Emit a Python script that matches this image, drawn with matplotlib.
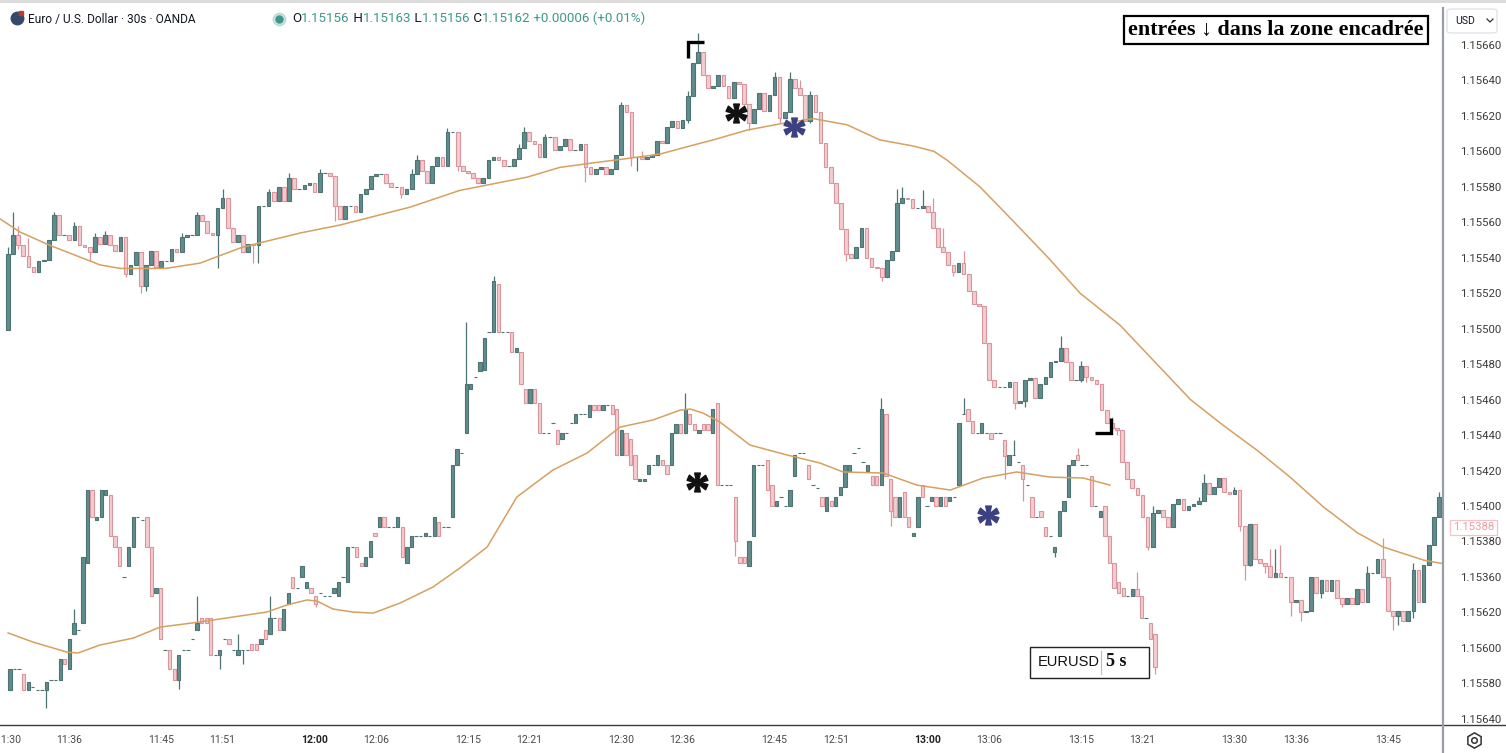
import numpy as np
import matplotlib.pyplot as plt
from matplotlib.lines import Line2D
from matplotlib.patches import Rectangle, FancyBboxPatch
from matplotlib.path import Path
from matplotlib.textpath import TextPath
from matplotlib.font_manager import FontProperties
from matplotlib.transforms import blended_transform_factory

plt.rcParams['font.family'] = ['Roboto', 'DejaVu Sans']

# all prices are written in 1e-5 above BASE (542 -> 1.15542)
BASE = 1.15

# 30 s candles, first one at 11:30, open = previous close
up_first_open = 499
up_close = [
    542, 553, 547, 541, 535, 532, 538, 539, 550, 564, 553, 553, 550, 558, 547, 546, 543, 552, 548, 553,
    547, 544, 552, 531, 536, 543, 524, 536, 544, 535, 538, 538, 545, 543, 552, 553, 553, 564, 561, 554,
    553, 568, 574, 557, 549, 553, 543, 548, 547, 569, 569, 577, 572, 580, 572, 585, 579, 579, 581, 582,
    577, 588, 588, 586, 569, 562, 569, 569, 566, 576, 579, 586, 587, 587, 582, 580, 580, 576, 579, 587,
    595, 589, 582, 592, 597, 592, 611, 611, 592, 589, 588, 585, 582, 585, 595, 597, 595, 592, 592, 596,
    602, 611, 606, 604, 597, 608, 608, 601, 603, 607, 601, 601, 604, 591, 587, 590, 591, 587, 590, 598,
    626, 622, 597, 597, 596, 597, 598, 606, 605, 614, 617, 613, 618, 631, 650, 656, 643, 636, 637, 643,
    637, 630, 639, 638, 627, 616, 624, 633, 623, 632, 642, 619, 622, 641, 636, 632, 617, 632, 622, 605,
    591, 582, 571, 556, 542, 540, 546, 557, 540, 535, 534, 529, 539, 544, 571, 574, 573, 568, 568, 569,
    566, 557, 546, 543, 536, 532, 537, 531, 521, 514, 513, 492, 471, 467, 467, 467, 470, 458, 459, 471,
    472, 461, 469, 473, 481, 482, 489, 481, 471, 471, 479, 473, 471, 469, 454, 447, 444, 443, 425, 415,
    410, 406, 394, 377, 396, 398, 394, 388, 401, 404, 398, 400, 401, 403, 413, 407, 411, 416, 408, 407,
    409, 389, 367, 390, 370, 368, 366, 360, 362, 360, 360, 346, 347, 340, 341, 360, 351, 358, 352, 358,
    348, 345, 348, 345, 353, 346, 362, 362, 370, 360, 341, 338, 341, 335, 341, 364, 346, 367, 378, 394,
    405,
]
up_high = {0: 546, 1: 566, 2: 558, 4: 551, 9: 566, 13: 560, 17: 554, 19: 555, 34: 554, 37: 566,
           42: 579, 51: 579, 55: 588, 61: 590, 79: 590, 80: 598, 86: 613, 100: 604, 101: 614,
           105: 610, 120: 628, 124: 600, 133: 634, 135: 667, 150: 645, 153: 645, 155: 640,
           157: 634, 174: 579, 175: 580, 179: 578, 181: 574, 183: 557, 187: 544, 206: 496,
           210: 482, 214: 456, 216: 450, 220: 413, 224: 400, 233: 405, 234: 418, 240: 411,
           247: 376, 248: 376, 249: 378, 266: 366, 269: 382, 275: 368, 280: 408}
up_low = {2: 545, 16: 538, 23: 529, 26: 520, 27: 521, 41: 534, 48: 537, 49: 537, 64: 561,
          77: 574, 88: 589, 113: 583, 122: 592, 123: 589, 133: 616, 145: 612, 151: 616,
          157: 616, 164: 538, 171: 527, 185: 530, 197: 455, 199: 456, 204: 478, 210: 470,
          211: 470, 217: 440, 223: 375, 241: 386, 242: 358, 243: 366, 246: 362, 251: 338,
          253: 335, 257: 348, 261: 343, 271: 330, 272: 333, 275: 337}

# 5 s chart pasted into the lower half
lo_open = [
    296, 308, 308, 305, 296, 298, 296, 296, 296, 302, 302, 302,
    314, 308, 328, 330, 334, 368, 409, 392, 394, 406, 406, 383,
    377, 360, 366, 377, 394, 392, 394, 377, 351, 354, 319, 319,
    308, 302, 319, 319, 325, 330, 337, 337, 337, 316, 316, 325,
    325, 319, 316, 319, 319, 322, 322, 322, 330, 328, 337, 337,
    330, 345, 360, 354, 360, 354, 354, 349, 351, 349, 349, 351,
    349, 360, 357, 377, 377, 368, 366, 371, 385, 388, 394, 388,
    388, 388, 388, 368, 377, 383, 383, 383, 383, 383, 391, 388,
    388, 394, 423, 430, 441, 466, 473, 476, 477, 498, 498, 525,
    498, 498, 498, 487, 487, 466, 458, 466, 458, 441, 441, 447,
    443, 438, 441, 447, 447, 452, 452, 450, 457, 457, 454, 457,
    457, 455, 429, 441, 438, 429, 414, 414, 418, 423, 423, 426,
    423, 423, 441, 446, 441, 452, 446, 441, 446, 446, 441, 458,
    412, 412, 412, 405, 371, 371, 366, 383, 423, 423, 426, 412,
    400, 405, 400, 400, 417, 430, 430, 423, 412, 410, 405, 397,
    403, 400, 406, 411, 420, 430, 433, 425, 420, 417, 417, 412,
    452, 415, 405, 394, 408, 394, 383, 388, 412, 400, 403, 405,
    400, 405, 403, 405, 412, 452, 455, 448, 441, 441, 441, 441,
    441, 441, 437, 423, 429, 425, 423, 412, 405, 394, 397, 388,
    383, 374, 383, 397, 405, 423, 429, 423, 423, 417, 400, 394,
    400, 383, 368, 357, 354, 349, 349, 353, 349, 337, 334, 328,
]
lo_close = [
    308, 308, 308, 296, 301, 298, 296, 296, 301, 302, 302, 314,
    311, 325, 334, 330, 371, 409, 394, 394, 409, 409, 383, 377,
    366, 360, 377, 394, 394, 392, 377, 349, 354, 325, 319, 308,
    302, 316, 319, 319, 325, 334, 334, 334, 316, 316, 319, 325,
    322, 319, 319, 319, 319, 319, 319, 325, 325, 337, 337, 330,
    342, 351, 354, 354, 366, 357, 351, 345, 351, 349, 349, 354,
    357, 360, 377, 377, 371, 366, 371, 380, 383, 394, 388, 388,
    388, 394, 371, 377, 383, 383, 383, 385, 383, 394, 383, 388,
    388, 423, 432, 430, 469, 469, 473, 481, 495, 498, 527, 498,
    498, 498, 487, 489, 469, 458, 466, 458, 441, 441, 441, 447,
    435, 441, 441, 447, 452, 452, 452, 457, 454, 454, 457, 457,
    452, 429, 443, 429, 423, 415, 415, 415, 423, 423, 429, 423,
    418, 441, 446, 441, 455, 446, 443, 443, 443, 443, 455, 412,
    412, 412, 412, 380, 368, 368, 380, 423, 423, 423, 409, 400,
    403, 405, 400, 409, 429, 430, 430, 415, 412, 410, 400, 405,
    400, 405, 411, 423, 423, 430, 433, 425, 423, 412, 412, 455,
    417, 397, 394, 405, 394, 388, 385, 405, 405, 400, 405, 400,
    405, 400, 405, 405, 447, 452, 448, 441, 441, 447, 441, 438,
    441, 441, 428, 429, 429, 425, 415, 412, 394, 394, 394, 383,
    383, 377, 397, 403, 423, 426, 426, 423, 423, 400, 400, 397,
    383, 368, 354, 351, 349, 349, 353, 349, 337, 337, 325, 309,
]
lo_high = {14: 342, 41: 349, 50: 328, 57: 349, 100: 504, 106: 530, 148: 464, 191: 461,
           209: 461, 220: 437, 234: 433, 247: 363}
lo_low = {8: 286, 37: 297, 46: 308, 51: 311, 67: 343, 159: 372, 193: 389, 218: 415,
          222: 403, 229: 371, 251: 305}

# moving averages
up_ma_t = [-0.8, 1.2, 4.1, 7.0, 9.0, 11.0, 15.4, 18.8, 22.7, 24.7, 28.6, 32.5, 39.3, 44.2,
           50.8, 54.0, 57.2, 60.6, 63.8, 67.0, 69.0, 72.3, 75.5, 78.8, 82.1, 85.3, 88.6, 90.6,
           91.9, 95.1, 98.3, 101.7, 104.9, 108.8, 115.7, 118.9, 122.2, 125.4, 128.7, 132.0,
           134.5, 138.5, 140.4]
up_ma = [562, 554.5, 547, 540.5, 536, 534, 534, 537, 545.5, 548.5, 554, 558.5, 568.5, 578,
         585.5, 591, 593.5, 596, 598.5, 603.5, 606.5, 612, 615.5, 618.5, 615, 606.5, 603, 600,
         595, 580, 561, 540.5, 520, 502, 460, 445.5, 431.5, 416.5, 399.5, 385,
         377, 369.5, 367.5]
lo_ma_i = [-0.4, 5.0, 12.5, 14.9, 19.7, 27.0, 32.9, 41.6, 48.9, 56.3, 60.7, 65.1, 67.3, 70.8,
           75.2, 79.6, 85.5, 92.7, 98.6, 104.6, 111.1, 119.0, 126.5, 133.7, 140.9, 146.9, 149.1,
           151.9, 155.6, 162.2, 170.3, 177.6, 182.6, 191.4, 198.8, 206.1, 213.3, 220.7, 228.0,
           235.2, 241.1]
lo_ma = [328.4, 323.3, 317.6, 317.1, 321.6, 325.5, 331.7, 334.6, 337.4, 340.2, 344.2, 347.0,
         346.4, 341.9, 340.2, 339.6, 345.3, 354.3, 365.0, 376.9, 405.1, 420.3, 429.9, 444.5,
         448.5, 454.1, 454.7, 452.4, 447.4, 434.4, 428.8, 424.2, 419.2, 418.6, 411.8, 409.0,
         415.8, 419.2, 416.3, 415.8, 411.8]

time_ticks = [0, 6, 15, 21, 30, 36, 45, 51, 60, 66, 75, 81, 90, 96, 105, 111, 120, 126, 135]
time_labels = ['11:30', '11:36', '11:45', '11:51', '12:00', '12:06', '12:15', '12:21', '12:30',
               '12:36', '12:45', '12:51', '13:00', '13:06', '13:15', '13:21', '13:30', '13:36',
               '13:45']
price_ticks = [660, 640, 620, 600, 580, 560, 540, 520, 500, 480, 460, 440, 420, 400, 380, 360,
               340, 320, 300, 280]
price_labels = ['1.15660', '1.15640', '1.15620', '1.15600', '1.15580', '1.15560', '1.15540',
                '1.15520', '1.15500', '1.15480', '1.15460', '1.15440', '1.15420', '1.15400',
                '1.15380', '1.15360', '1.15620', '1.15600', '1.15580', '1.15640']
last_price = 388

UP_FACE, UP_EDGE = '#5f8d8b', '#4d7472'
DN_FACE, DN_EDGE = '#f5cbcf', '#d9959c'
MA_COL = '#d6a060'


def px(v):
    return BASE + np.asarray(v, dtype=float) * 1e-5


def draw_candles(ax, x, o, c, hi_d, lo_d, width):
    o = np.asarray(o, dtype=float)
    c = np.asarray(c, dtype=float)
    hi = np.maximum(o, c)
    lo = np.minimum(o, c)
    for k, v in hi_d.items():
        hi[k] = max(hi[k], v)
    for k, v in lo_d.items():
        lo[k] = min(lo[k], v)
    up = c >= o
    for m, face, edge in ((up, UP_FACE, UP_EDGE), (~up, DN_FACE, DN_EDGE)):
        ax.vlines(x[m], px(lo[m]), px(hi[m]), color=edge, lw=0.9, zorder=2)
        ax.bar(x[m], (c - o)[m] * 1e-5, width, bottom=px(o[m]), color=face,
               edgecolor=edge, lw=0.8, zorder=2.5)


W, H = 1506, 753
fig = plt.figure(figsize=(W / 100, H / 100), dpi=100)
ax = fig.add_axes([0, 28 / H, 1443 / W, 725 / H])
ax2 = ax.twiny()

# upper chart: 30 s candles on a time axis (minutes after 11:30)
up_o = [up_first_open] + up_close[:-1]
up_t = np.arange(len(up_close)) * 0.5
draw_candles(ax, up_t, up_o, up_close, up_high, up_low, 0.36)
ax.plot(up_ma_t, px(up_ma), color=MA_COL, lw=1.1, zorder=3)

# lower chart: 5 s candles by bar number
lo_x = np.arange(len(lo_close))
draw_candles(ax2, lo_x, lo_open, lo_close, lo_high, lo_low, 0.72)
ax2.plot(lo_ma_i, px(lo_ma), color=MA_COL, lw=1.1, zorder=3)

ax.set_xlim(-0.78, 140.4)
ax2.set_xlim(-2.19, 314.1)
ax.set_ylim(px(276.5), px(685.4))

for a in (ax, ax2):
    for s in a.spines.values():
        s.set_visible(False)
ax2.set_xticks([])

ax.set_xticks(time_ticks, time_labels)
ax.tick_params(axis='x', length=0, pad=7, labelsize=7.6, labelcolor='#4a4a4a')
for lab in ax.get_xticklabels():
    if lab.get_text().endswith(':00'):
        lab.set_fontweight('bold')
        lab.set_color('#222222')
ax.yaxis.tick_right()
ax.set_yticks(px(price_ticks), price_labels)
ax.tick_params(axis='y', length=0, pad=12, labelsize=8.2, labelcolor='#3b3b3b')

# last price tag
tr = blended_transform_factory(ax.transAxes, ax.transData)
ax.text(1.0212, px(last_price), '1.15388', transform=tr, ha='center', va='center',
        fontsize=8.2, color='#ee9ca4', clip_on=False,
        bbox=dict(boxstyle='square,pad=0.22', fc='white', ec='#f4c3c8', lw=0.9))

# asterisks (serif bold glyph used as a marker) and corner brackets
tp = TextPath((0, 0), '*', size=10, prop=FontProperties(family='Liberation Serif', weight='bold'))
ext = tp.get_extents()
sv = tp.vertices - [(ext.x0 + ext.x1) / 2, (ext.y0 + ext.y1) / 2]
sv[tp.codes == Path.CLOSEPOLY] = 0
star = Path(sv, tp.codes)
ax.plot([71.2], px([621.6]), marker=star, ms=15, color='#111111', ls='none', zorder=5)
ax.plot([76.9], px([613.8]), marker=star, ms=15, color='#3b4080', ls='none', zorder=5)
ax.plot([67.4], px([413.5]), marker=star, ms=15, color='#111111', ls='none', zorder=5)
ax.plot([95.9], px([395.0]), marker=star, ms=15, color='#3b4080', ls='none', zorder=5)
ax.plot([66.55, 66.55, 68.1], px([652.5, 661.7, 661.7]), color='black', lw=2.4,
        solid_joinstyle='miter', solid_capstyle='butt', zorder=5)
ax.plot([106.36, 107.93, 107.93], px([441.2, 441.2, 449.6]), color='black', lw=2.4,
        solid_joinstyle='miter', solid_capstyle='butt', zorder=5)

# frame lines
fig.add_artist(Line2D([0, 1], [28 / H, 28 / H], color='#3a3a3a', lw=1.0, transform=fig.transFigure))
fig.add_artist(Line2D([1443 / W, 1443 / W], [0, 1 - 8 / H], color='#9a9da5', lw=1.6,
                      transform=fig.transFigure))
fig.add_artist(Line2D([0, 1], [1 - 1 / H, 1 - 1 / H], color='#dadada', lw=2,
                      transform=fig.transFigure))

# header
fig.add_artist(Line2D([17 / W], [1 - 18 / H], marker='o', ms=9, color='#34496b',
                      transform=fig.transFigure))
fig.add_artist(Line2D([21 / W], [1 - 13 / H], marker='s', ms=3.5, color='#c0392b',
                      transform=fig.transFigure))
fig.text(28 / W, 1 - 19 / H, 'Euro / U.S. Dollar · 30s · OANDA', fontsize=8.6,
         color='#131722', va='center', ha='left')
fig.add_artist(Line2D([279 / W], [1 - 19 / H], marker='o', ms=9, color='#3e978d', alpha=0.25,
                      transform=fig.transFigure))
fig.add_artist(Line2D([279 / W], [1 - 19 / H], marker='o', ms=5, color='#3e978d',
                      transform=fig.transFigure))
pieces = [('O', '#131722'), ('1.15156', '#3e978d'), (' H', '#131722'), ('1.15163', '#3e978d'),
          (' L', '#131722'), ('1.15156', '#3e978d'), (' C', '#131722'), ('1.15162', '#3e978d'),
          (' +0.00006 (+0.01%)', '#3e978d')]
prev = fig.text(292 / W, 1 - 19 / H, pieces[0][0], fontsize=9.6, color=pieces[0][1],
                va='center', ha='left')
for s, col in pieces[1:]:
    prev = ax.annotate(s, xy=(1, 0), xycoords=prev, va='bottom', ha='left', fontsize=9.6,
                       color=col, annotation_clip=False)

# currency box and settings icon
fig.add_artist(FancyBboxPatch((1447 / W, 1 - 33 / H), 50 / W, 24 / H,
                              boxstyle='round,pad=0,rounding_size=0.003', fc='white',
                              ec='#e0e3eb', lw=1, transform=fig.transFigure))
fig.text(1455 / W, 1 - 21 / H, 'USD', fontsize=7.6, color='#131722', va='center', ha='left')
fig.add_artist(Line2D([1487 / W, 1490 / W, 1493 / W], [1 - 19 / H, 1 - 22 / H, 1 - 19 / H],
                      color='#333333', lw=0.9, transform=fig.transFigure))
fig.add_artist(Line2D([1474 / W], [1 - 740 / H], marker='h', ms=11, mfc='none', mec='#333333',
                      mew=1.1, transform=fig.transFigure))
fig.add_artist(Line2D([1474 / W], [1 - 740 / H], marker='o', ms=4, mfc='none', mec='#333333',
                      mew=1.1, transform=fig.transFigure))

# caption boxes
fig.text(1276 / W, 1 - 30 / H, 'entrées ↓ dans la zone encadrée', ha='center', va='center',
         fontsize=15.8, fontweight='bold', color='black',
         family=['Liberation Serif', 'DejaVu Serif'],
         bbox=dict(boxstyle='square,pad=0.2', fc='white', ec='black', lw=1.6))
fig.add_artist(Rectangle((1030 / W, 1 - 678 / H), 119 / W, 31 / H, fc='white', ec='#222222',
                         lw=1.0, transform=fig.transFigure))
fig.text(1038 / W, 1 - 662 / H, 'EURUSD', fontsize=10.5, color='#111111', va='center',
         ha='left', family=['Liberation Sans', 'DejaVu Sans'])
fig.add_artist(Line2D([1101 / W, 1101 / W], [1 - 651 / H, 1 - 674 / H], color='#bbbbbb', lw=0.8,
                      transform=fig.transFigure))
fig.text(1106 / W, 1 - 662 / H, '5 s', fontsize=13, color='#111111', va='center', ha='left',
         fontweight='bold', family=['Liberation Serif', 'DejaVu Serif'])

fig.savefig('out.png', dpi=100)
